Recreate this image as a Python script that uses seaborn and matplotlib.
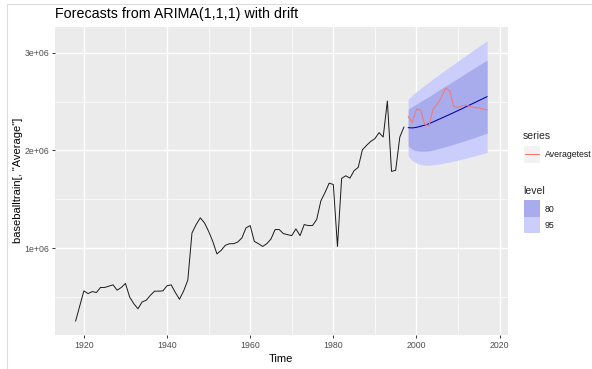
import matplotlib
matplotlib.use("Agg")
import matplotlib.pyplot as plt
import seaborn as sns
import pandas as pd
from matplotlib.patches import Rectangle
from matplotlib.lines import Line2D
from matplotlib.ticker import FixedLocator

# ---------------- data ----------------
train_years = list(range(1918, 1998))
train_values = [
    252000, 407000, 562000, 534000, 555000, 545000, 597000, 597000, 610000, 624000,
    569000, 597000, 638000, 500000, 431000, 379000, 448000, 466000, 517000, 559000,
    559000, 562000, 614000, 624000, 545000, 476000, 562000, 672000, 1155000, 1241000,
    1310000, 1259000, 1172000, 1069000, 941000, 976000, 1028000, 1045000, 1045000, 1062000,
    1104000, 1207000, 1231000, 1069000, 1045000, 1017000, 1045000, 1093000, 1190000, 1190000,
    1148000, 1138000, 1128000, 1197000, 1128000, 1241000, 1231000, 1231000, 1293000, 1483000,
    1569000, 1665000, 1652000, 1017000, 1714000, 1741000, 1717000, 1793000, 1828000, 2007000,
    2052000, 2093000, 2121000, 2183000, 2138000, 2507000, 1786000, 1797000, 2138000, 2241000,
]
fc_years = list(range(1998, 2018))
fc_mean = [2234000, 2231000, 2237000, 2248000, 2260000, 2274000, 2293000, 2312000, 2331000, 2350000,
           2369000, 2389000, 2409000, 2429000, 2450000, 2470000, 2490000, 2511000, 2531000, 2552000]
lo80 = [2046000, 2012000, 1998000, 1993000, 1992000, 1996000, 2005000, 2016000, 2027000, 2039000,
        2051000, 2064000, 2078000, 2091000, 2105000, 2119000, 2133000, 2148000, 2162000, 2178000]
hi80 = [2422000, 2450000, 2476000, 2503000, 2528000, 2552000, 2581000, 2608000, 2635000, 2661000,
        2687000, 2714000, 2740000, 2767000, 2795000, 2821000, 2847000, 2874000, 2900000, 2926000]
lo95 = [1946000, 1896000, 1871000, 1858000, 1850000, 1849000, 1853000, 1859000, 1866000, 1874000,
        1882000, 1892000, 1902000, 1912000, 1923000, 1933000, 1944000, 1956000, 1967000, 1980000]
hi95 = [2522000, 2566000, 2603000, 2638000, 2670000, 2699000, 2733000, 2765000, 2796000, 2826000,
        2856000, 2886000, 2916000, 2946000, 2977000, 3007000, 3036000, 3066000, 3095000, 3124000]
test_values = [2348000, 2286000, 2424000, 2414000, 2269000, 2252000, 2424000, 2476000, 2545000, 2638000,
               2614000, 2448000, 2441000, 2459000, 2466000, 2448000, 2441000, 2435000, 2424000, 2417000]

x_major = [1920, 1940, 1960, 1980, 2000, 2020]
x_minor = [1930, 1950, 1970, 1990, 2010]
y_major = [1000000, 2000000, 3000000]
y_major_labels = ["1e+06", "2e+06", "3e+06"]
y_minor = [500000, 1500000, 2500000]

title = "Forecasts from ARIMA(1,1,1) with drift"
xlabel = "Time"
ylabel = 'baseballtrain[, "Average"]'
legend_series_title = "series"
legend_series_label = "Averagetest"
legend_level_title = "level"
legend_level_labels = ["80", "95"]

train_df = pd.DataFrame({"year": train_years, "value": train_values})
fc_df = pd.DataFrame({"year": fc_years, "mean": fc_mean, "test": test_values})

# ---------------- style ----------------
sns.set_theme(style="darkgrid")
plt.rcParams["font.family"] = ["Liberation Sans", "DejaVu Sans"]

W, H = 592, 369
fig = plt.figure(figsize=(W / 100, H / 100), dpi=100)
fig.patch.set_facecolor("white")
ax = fig.add_axes([55 / W, 1 - 335 / H, 452.7 / W, 308.3 / H])
ax.set_facecolor("#EBEBEB")

c95 = "#CBCEFA"
c80 = "#A9ACEC"
ax.fill_between(fc_years, lo95, hi95, color=c95, lw=0, zorder=2)
ax.fill_between(fc_years, lo80, hi80, color=c80, lw=0, zorder=3)
sns.lineplot(data=train_df, x="year", y="value", color="#1A1A1A", lw=0.7, ax=ax, zorder=4)
sns.lineplot(data=fc_df, x="year", y="mean", color="#0000AA", lw=0.75, ax=ax, zorder=5)
sns.lineplot(data=fc_df, x="year", y="test", color="#F8766D", lw=0.75, ax=ax, zorder=6)

ax.set_xlim(1913.05, 2021.95)
ax.set_ylim(110000, 3268000)

ax.xaxis.set_major_locator(FixedLocator(x_major))
ax.xaxis.set_minor_locator(FixedLocator(x_minor))
ax.yaxis.set_major_locator(FixedLocator(y_major))
ax.yaxis.set_minor_locator(FixedLocator(y_minor))
ax.set_xticklabels([str(v) for v in x_major])
ax.set_yticklabels(y_major_labels)

ax.grid(which="major", color="white", lw=1.0)
ax.grid(which="minor", color="white", lw=0.5)
ax.set_axisbelow(True)
for s in ax.spines.values():
    s.set_visible(False)

ax.tick_params(which="major", length=2.3, width=0.7, color="#333333",
               labelsize=6.3, labelcolor="#4D4D4D", pad=1.8,
               bottom=True, left=True)
ax.tick_params(which="minor", length=0)

ax.set_xlabel(xlabel, fontsize=8, color="black", labelpad=3)
ax.set_ylabel(ylabel, fontsize=8, color="black", labelpad=1)
ax.set_title(title, loc="left", fontsize=10.3, color="black", pad=6)

# ---------------- legend (drawn in figure pixels) ----------------
def fx(px):
    return px / W

def fy(py):
    return 1 - py / H

def box(x0, y0, x1, y1, color):
    fig.add_artist(Rectangle((fx(x0), fy(y1)), fx(x1) - fx(x0), fy(y0) - fy(y1),
                             transform=fig.transFigure, facecolor=color, edgecolor="none"))

fig.text(fx(523), fy(135.7), legend_series_title, fontsize=7.5, va="center", ha="left")
box(523.5, 145.5, 540, 162.5, "#F2F2F2")
fig.add_artist(Line2D([fx(525), fx(538.5)], [fy(154), fy(154)], transform=fig.transFigure,
                      color="#F8766D", lw=0.8))
fig.text(fx(544.5), fy(154.3), legend_series_label, fontsize=6.3, va="center", ha="left", color="#1A1A1A")

fig.text(fx(523), fy(191), legend_level_title, fontsize=7.5, va="center", ha="left")
box(523.5, 200, 540, 216.5, c80)
box(523.5, 216.5, 540, 233, c95)
fig.text(fx(544.5), fy(209), legend_level_labels[0], fontsize=6.3, va="center", ha="left", color="#1A1A1A")
fig.text(fx(544.5), fy(225.5), legend_level_labels[1], fontsize=6.3, va="center", ha="left", color="#1A1A1A")

# light screenshot frame
fig.add_artist(Line2D([fx(6.7), 1], [fy(4.3), fy(4.3)], transform=fig.transFigure, color="#DCDCDC", lw=0.8))
fig.add_artist(Line2D([fx(6.7), fx(6.7)], [fy(4.3), 0], transform=fig.transFigure, color="#DCDCDC", lw=0.8))

fig.savefig("out.png", dpi=100)
